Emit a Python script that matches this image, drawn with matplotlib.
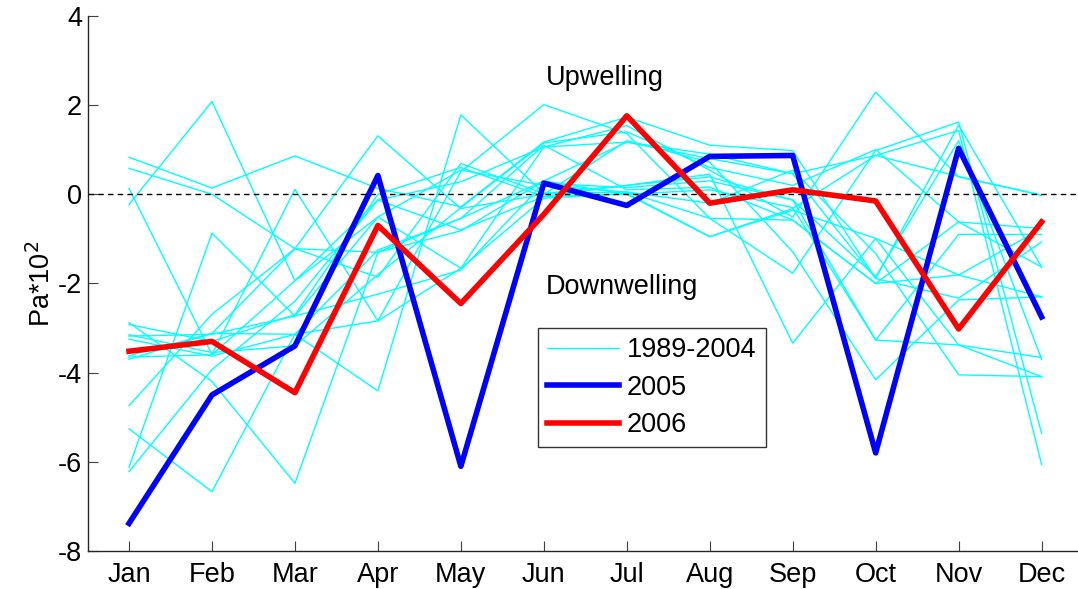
import matplotlib
matplotlib.use('Agg')
import matplotlib.pyplot as plt

plt.rcParams['font.family'] = ['Liberation Sans', 'DejaVu Sans']
plt.rcParams['axes.unicode_minus'] = False

months = ['Jan', 'Feb', 'Mar', 'Apr', 'May', 'Jun', 'Jul', 'Aug', 'Sep', 'Oct', 'Nov', 'Dec']

# monthly wind stress anomaly, Pa*10^2
stress_2005 = [-7.38, -4.50, -3.40, 0.42, -6.10, 0.25, -0.25, 0.85, 0.87, -5.80, 1.03, -2.75]
stress_2006 = [-3.52, -3.30, -4.45, -0.70, -2.45, -0.45, 1.76, -0.20, 0.10, -0.15, -3.02, -0.62]

# 1989-2004, one list per year
stress_past = [
	[0.83, 0.14, 0.86, 0.13, -0.28, 1.17, 1.73, 1.10, 0.98, -1.89, -2.33, -1.07],
	[0.58, 0.00, -1.22, -1.86, 0.69, 0.02, 0.20, 0.39, -0.13, -3.27, -3.38, -3.66],
	[0.13, -3.59, 0.11, -2.84, 0.51, 2.01, 1.36, -0.54, -1.77, 0.98, 1.62, -5.36],
	[-0.23, 2.08, -1.94, -0.13, 0.28, 1.06, 1.54, 0.54, -0.51, 2.29, 0.39, -0.02],
	[-2.88, -4.20, -6.48, -1.30, -0.82, 0.30, 1.17, 0.90, 0.46, 0.87, 1.43, -6.06],
	[-3.18, -3.14, -2.73, -0.51, -1.66, -0.09, 0.02, -0.95, -0.36, -0.99, -1.81, -0.77],
	[-3.70, -3.12, -3.14, -1.25, -0.54, 1.10, 0.10, 0.16, -0.58, -2.00, -0.62, -1.63],
	[-4.74, -2.69, -1.22, 1.31, -0.32, 0.00, 1.20, 0.72, -1.29, -4.16, -2.37, -2.30],
	[-5.26, -6.67, -3.14, -4.41, 1.78, 0.02, 0.05, -0.20, 0.54, -1.33, -4.05, -4.09],
	[-6.12, -0.87, -2.73, -2.24, -1.70, 0.25, 0.15, 0.30, -0.13, -1.85, 1.20, -3.70],
	[-6.22, -3.93, -2.40, -0.13, -0.80, -0.05, 0.00, 0.10, -0.30, -3.27, -0.90, -0.90],
	[-3.15, -3.55, -3.40, -1.80, -0.30, 1.15, 1.40, 0.60, 0.20, 1.00, -0.62, -0.77],
	[-2.92, -3.30, -2.70, 0.00, 0.60, -0.05, 0.20, 0.45, -3.34, -0.99, -3.38, -4.09],
	[-3.65, -3.60, -1.94, -0.51, 0.54, 0.20, 0.05, -0.54, -0.58, -2.00, -1.81, -2.30],
	[-3.25, -3.63, -3.14, -2.84, -1.66, 1.06, 1.17, 0.80, 0.46, -1.89, 1.55, -1.63],
	[-3.62, -3.12, -1.22, -1.30, -0.54, 0.30, 0.00, -0.95, -0.32, 0.87, 0.40, -0.02],
]

FS = 19.5
x = list(range(1, 13))

fig = plt.figure(figsize=(10.78, 5.89), dpi=100)
ax = fig.add_axes([0.0812, 0.0645, 0.9235, 0.9085])

for i, year in enumerate(stress_past):
	ax.plot(x, year, color='#00ffff', lw=1.0, label='1989-2004' if i == 0 else None, zorder=2)

ax.axhline(0, color='k', lw=1.0, linestyle=(0, (4, 3)), zorder=3)

ax.plot(x, stress_2005, color='#0000ff', lw=4, label='2005', zorder=4)
ax.plot(x, stress_2006, color='#ff0000', lw=4, label='2006', zorder=5)

ax.text(6.73, 2.44, 'Upwelling', ha='center', va='baseline', fontsize=FS)
ax.text(6.94, -2.24, 'Downwelling', ha='center', va='baseline', fontsize=FS)

ax.set_xlim(0.5, 12.5)
ax.set_ylim(-8, 4)
ax.set_xticks(x)
ax.set_xticklabels(months)
ax.set_yticks(range(-8, 5, 2))
ax.set_ylabel('Pa*10$^2$', fontsize=FS, labelpad=1.5)

for side in ['top', 'right']:
	ax.spines[side].set_visible(False)
for side in ['left', 'bottom']:
	ax.spines[side].set_color('0.15')
	ax.spines[side].set_linewidth(1.0)
ax.tick_params(direction='in', length=7, width=0.8, color='0.25', labelsize=FS)
ax.tick_params(axis='x', pad=8)
ax.tick_params(axis='y', pad=4)

leg = ax.legend(loc='upper left', bbox_to_anchor=(0.4525, 0.4167), borderaxespad=0,
	fontsize=FS, fancybox=False, framealpha=1, edgecolor='0.2',
	handlelength=2.65, handletextpad=0.3, borderpad=0.34, labelspacing=0.42)
leg.get_frame().set_linewidth(1.0)

fig.savefig('out.png', dpi=100)
